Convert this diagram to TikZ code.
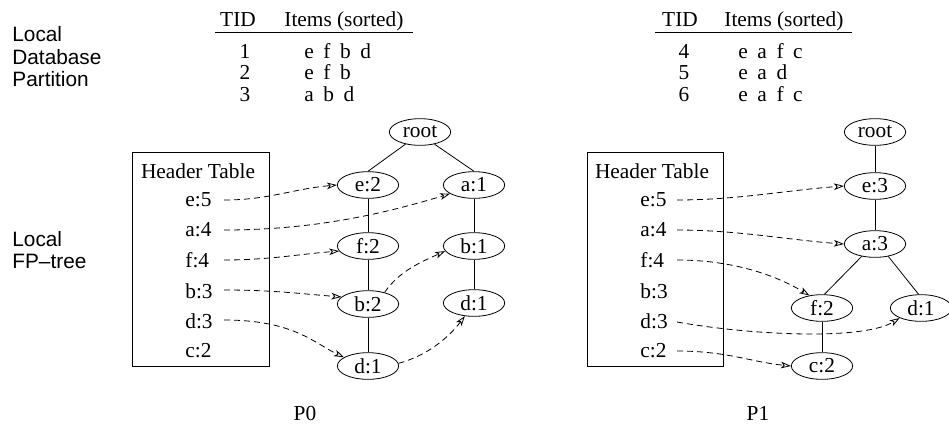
\documentclass[tikz,border=0pt]{standalone}
\usepackage{fontspec}
\setmainfont{Liberation Serif}
\newfontfamily\lsans{Liberation Sans}
\usetikzlibrary{shapes.geometric,arrows.meta}
\newcommand\itgap{\hspace{0.45em}}
\begin{document}
\begin{tikzpicture}[x=0.75pt,y=-0.75pt, line width=0.6pt,
  every node/.style={font=\fontsize{16}{18}\selectfont, inner sep=0pt},
  tn/.style={draw, ellipse, minimum width=46pt, minimum height=20pt, inner sep=0pt},
  ptr/.style={dash pattern=on 4.5pt off 3pt, -{Stealth[open,length=7.5pt,width=5pt,inset=2pt]}},
  lab/.style={font=\lsans\fontsize{15.6}{17}\selectfont, anchor=base west},
  hbox/.style={draw, minimum width=102.5pt, minimum height=160pt},
  hit/.style={anchor=west}]
\useasboundingbox (0,0) rectangle (949,426);

% ---- left labels
\node[lab] (l1) at (12,41.5) {Local};
\node[lab] (l2) at (12,64) {Database};
\node[lab] (l3) at (12,86) {Partition};
\node[lab] (l4) at (12,246) {Local};
\node[lab] (l5) at (12,268) {FP–tree};

% ---- table 1
\node[anchor=base] (tid1) at (238,26) {TID};
\node[anchor=base west] (it1) at (284,26) {Items (sorted)};
\coordinate (r1a) at (215,32); \coordinate (r1b) at (413,32);
\draw (r1a) -- (r1b);
\node[anchor=base] (n11) at (245,58) {1};
\node[anchor=base] (n12) at (245,79) {2};
\node[anchor=base] (n13) at (245,101) {3};
\node[anchor=base west] (i11) at (304,58) {e\itgap f\itgap b\itgap d};
\node[anchor=base west] (i12) at (304,79) {e\itgap f\itgap b};
\node[anchor=base west] (i13) at (304,101) {a\itgap b\itgap d};

% ---- table 2
\node[anchor=base] (tid2) at (680,26) {TID};
\node[anchor=base west] (it2) at (724,26) {Items (sorted)};
\coordinate (r2a) at (655,32); \coordinate (r2b) at (852,32);
\draw (r2a) -- (r2b);
\node[anchor=base] (n21) at (684,58) {4};
\node[anchor=base] (n22) at (684,79) {5};
\node[anchor=base] (n23) at (684,101) {6};
\node[anchor=base west] (i21) at (738,58) {e\itgap a\itgap f\itgap c};
\node[anchor=base west] (i22) at (738,79) {e\itgap a\itgap d};
\node[anchor=base west] (i23) at (738,101) {e\itgap a\itgap f\itgap c};

% ---- header table 1
\node[hbox] (box1) at (201,259.5) {};
\node (ht1) at (198,171) {Header Table};
\node[hit] (h1e) at (185,200) {e:5};
\node[hit] (h1a) at (185,230) {a:4};
\node[hit] (h1f) at (185,260) {f:4};
\node[hit] (h1b) at (185,291) {b:3};
\node[hit] (h1d) at (185,321) {d:3};
\node[hit] (h1c) at (185,351) {c:2};
\coordinate (s1e) at (224,200);
\coordinate (s1a) at (224,230);
\coordinate (s1f) at (224,260);
\coordinate (s1b) at (224,290);
\coordinate (s1d) at (224,320);

% ---- tree 1
\node[tn] (root1) at (420,132) {root};
\node[tn] (e2) at (368,185) {e:2};
\node[tn] (a1) at (474,185) {a:1};
\node[tn] (f2) at (368,246) {f:2};
\node[tn] (b1) at (474,246) {b:1};
\node[tn] (b2) at (368,304) {b:2};
\node[tn] (d1r) at (474,303) {d:1};
\node[tn] (d1b) at (368,366) {d:1};
\draw (root1.220) -- (e2.north);
\draw (root1.-40) -- (a1.north);
\draw (e2) -- (f2);
\draw (f2) -- (b2);
\draw (b2) -- (d1b);
\draw (a1) -- (b1);
\draw (b1) -- (d1r);

\draw[ptr] (s1e) .. controls +(45,0) and +(-45,4) .. (e2.west);
\draw[ptr] (s1a) .. controls +(95,0) and +(-60,18) .. (a1.200);
\draw[ptr] (s1f) .. controls +(45,0) and +(-40,3) .. (f2.190);
\draw[ptr] (s1b) .. controls +(50,0) and +(-40,-3) .. (b2.165);
\draw[ptr] (s1d) .. controls +(70,0) and +(-30,-14) .. (d1b.160);
\draw[ptr] (b2.35) .. controls +(15,-22) and +(-22,10) .. (b1.190);
\draw[ptr] (d1b.5) .. controls +(30,-8) and +(-15,20) .. (d1r.235);

\node (p0) at (305,413) {P0};

% ---- header table 2
\node[hbox] (box2) at (655.5,259.5) {};
\node (ht2) at (652,171) {Header Table};
\node[hit] (h2e) at (640,200) {e:5};
\node[hit] (h2a) at (640,230) {a:4};
\node[hit] (h2f) at (640,260) {f:4};
\node[hit] (h2b) at (640,291) {b:3};
\node[hit] (h2d) at (640,321) {d:3};
\node[hit] (h2c) at (640,351) {c:2};
\coordinate (s2e) at (677,200);
\coordinate (s2a) at (677,230);
\coordinate (s2f) at (677,260);
\coordinate (s2d) at (677,322);
\coordinate (s2c) at (677,351);

% ---- tree 2
\node[tn] (root2) at (875,132) {root};
\node[tn] (e3) at (875,186) {e:3};
\node[tn] (a3) at (875,244) {a:3};
\node[tn] (f22) at (822,308) {f:2};
\node[tn] (d12) at (921,308) {d:1};
\node[tn] (c22) at (822,366) {c:2};
\draw (root2) -- (e3);
\draw (e3) -- (a3);
\draw (a3.223) -- (f22.80);
\draw (a3.-43) -- (d12.100);
\draw (f22) -- (c22);

\draw[ptr] (s2e) .. controls +(60,0) and +(-55,4) .. (e3.west);
\draw[ptr] (s2a) .. controls +(60,0) and +(-55,-4) .. (a3.west);
\draw[ptr] (s2f) .. controls +(60,0) and +(-30,-18) .. (f22.135);
\draw[ptr] (s2d) .. controls +(80,14) and +(-35,22) .. (d12.205);
\draw[ptr] (s2c) .. controls +(50,0) and +(-40,-4) .. (c22.west);

\node (p1) at (758,413) {P1};
\end{tikzpicture}
\end{document}
